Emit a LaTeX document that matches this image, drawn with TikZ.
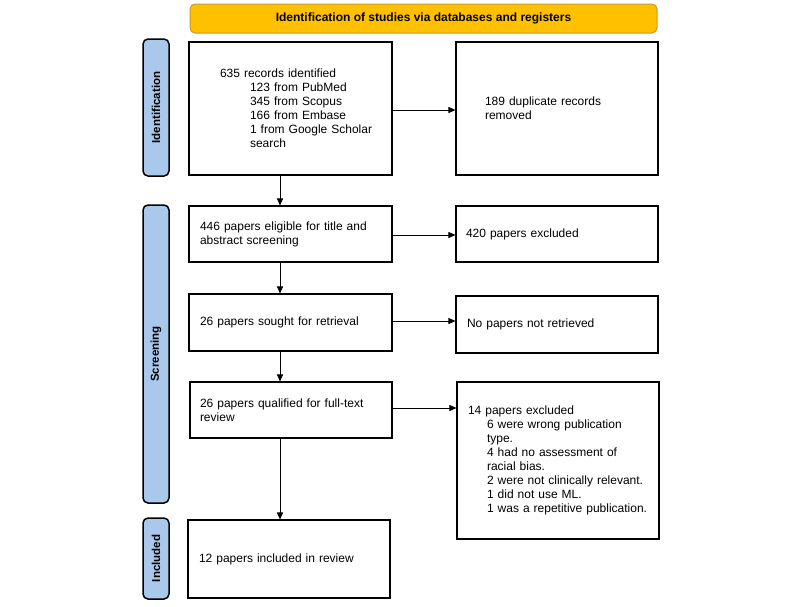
\documentclass[tikz,border=0pt]{standalone}
\usepackage{fontspec}
\setmainfont{Liberation Sans}
\usetikzlibrary{arrows.meta}
\definecolor{bannerfill}{HTML}{FFC000}
\definecolor{bannerline}{HTML}{C89B2A}
\definecolor{labfill}{HTML}{A9C8EC}
\tikzset{
  box/.style={draw=black, line width=1.1pt, fill=white, inner xsep=0pt, inner ysep=0pt,
    align=left, font=\fontsize{12}{14}\selectfont},
  lab/.style={draw=black, line width=1.5pt, fill=labfill, rounded corners=5pt, rotate=90,
    minimum height=26pt, inner sep=0pt, font=\bfseries\fontsize{11.5}{13}\selectfont},
  banner/.style={draw=bannerline, line width=1pt, fill=bannerfill, rounded corners=5pt,
    inner sep=0pt, font=\bfseries\fontsize{12}{14}\selectfont},
  arr/.style={line width=0.8pt, -{Triangle[length=7pt,width=6pt]}}
}
\begin{document}
\begin{tikzpicture}[x=1pt,y=-1pt]
\useasboundingbox (0,0) rectangle (800,606);
\node[banner, minimum width=467pt, minimum height=29pt] (ban) at (423.5,18.5) {Identification of studies via databases and registers};
\node[lab, minimum width=137pt] (lid) at (156,107.5) {Identification};
\node[lab, minimum width=298pt] (lsc) at (156,354) {Screening};
\node[lab, minimum width=81pt] (lin) at (156,558.5) {Included};

\node[box, minimum width=203pt, minimum height=133pt, text width=141pt] (b1) at (290.5,108.5)
  {635 records identified\\
   \hspace*{30pt}123 from PubMed\\
   \hspace*{30pt}345 from Scopus\\
   \hspace*{30pt}166 from Embase\\
   \mbox{\hspace*{30pt}1 from Google Scholar}\\
   \hspace*{30pt}search};
\node[box, minimum width=202pt, minimum height=133pt, text width=144pt] (r1) at (557,108.5)
  {189 duplicate records\\removed};

\node[box, minimum width=203pt, minimum height=56pt, text width=181pt] (b2) at (290.5,234)
  {446 papers eligible for title and\\abstract screening};
\node[box, minimum width=202pt, minimum height=56pt, text width=182pt] (r2) at (557,234)
  {420 papers excluded};

\node[box, minimum width=203pt, minimum height=57pt, text width=181pt] (b3) at (290.5,322.5)
  {26 papers sought for retrieval};
\node[box, minimum width=202pt, minimum height=57pt, text width=180pt] (r3) at (557,324.5)
  {No papers not retrieved};

\node[box, minimum width=202pt, minimum height=56pt, text width=182pt] (b4) at (291,410)
  {26 papers qualified for full-text\\review};
\node[box, minimum width=202pt, minimum height=157pt, text width=180pt] (r4) at (558,460.5)
  {14 papers excluded\\
   \hspace*{19pt}6 were wrong publication\\
   \hspace*{19pt}type.\\
   \hspace*{19pt}4 had no assessment of\\
   \hspace*{19pt}racial bias.\\
   \mbox{\hspace*{19pt}2 were not clinically relevant.}\\
   \hspace*{19pt}1 did not use ML.\\
   \mbox{\hspace*{19pt}1 was a repetitive publication.}};

\node[box, minimum width=202pt, minimum height=78pt, text width=180pt] (b5) at (289,559)
  {12 papers included in review};

\draw[arr] ([xshift=-10.5pt]b1.south) -- ([xshift=-10.5pt]b1.south |- b2.north);
\draw[arr] ([xshift=-10.5pt]b2.south) -- ([xshift=-10.5pt]b2.south |- b3.north);
\draw[arr] ([xshift=-10.5pt]b3.south) -- ([xshift=-10.5pt]b3.south |- b4.north);
\draw[arr] ([xshift=-11pt]b4.south) -- ([xshift=-11pt]b4.south |- b5.north);

\draw[arr] ([yshift=-1.5pt]b1.east) -- ([yshift=-1.5pt]b1.east -| r1.west);
\draw[arr] ([yshift=-1pt]b2.east) -- ([yshift=-1pt]b2.east -| r2.west);
\draw[arr] ([yshift=1.5pt]b3.east) -- ([yshift=1.5pt]b3.east -| r3.west);
\draw[arr] ([yshift=2pt]b4.east) -- ([yshift=2pt]b4.east -| r4.west);
\end{tikzpicture}
\end{document}
